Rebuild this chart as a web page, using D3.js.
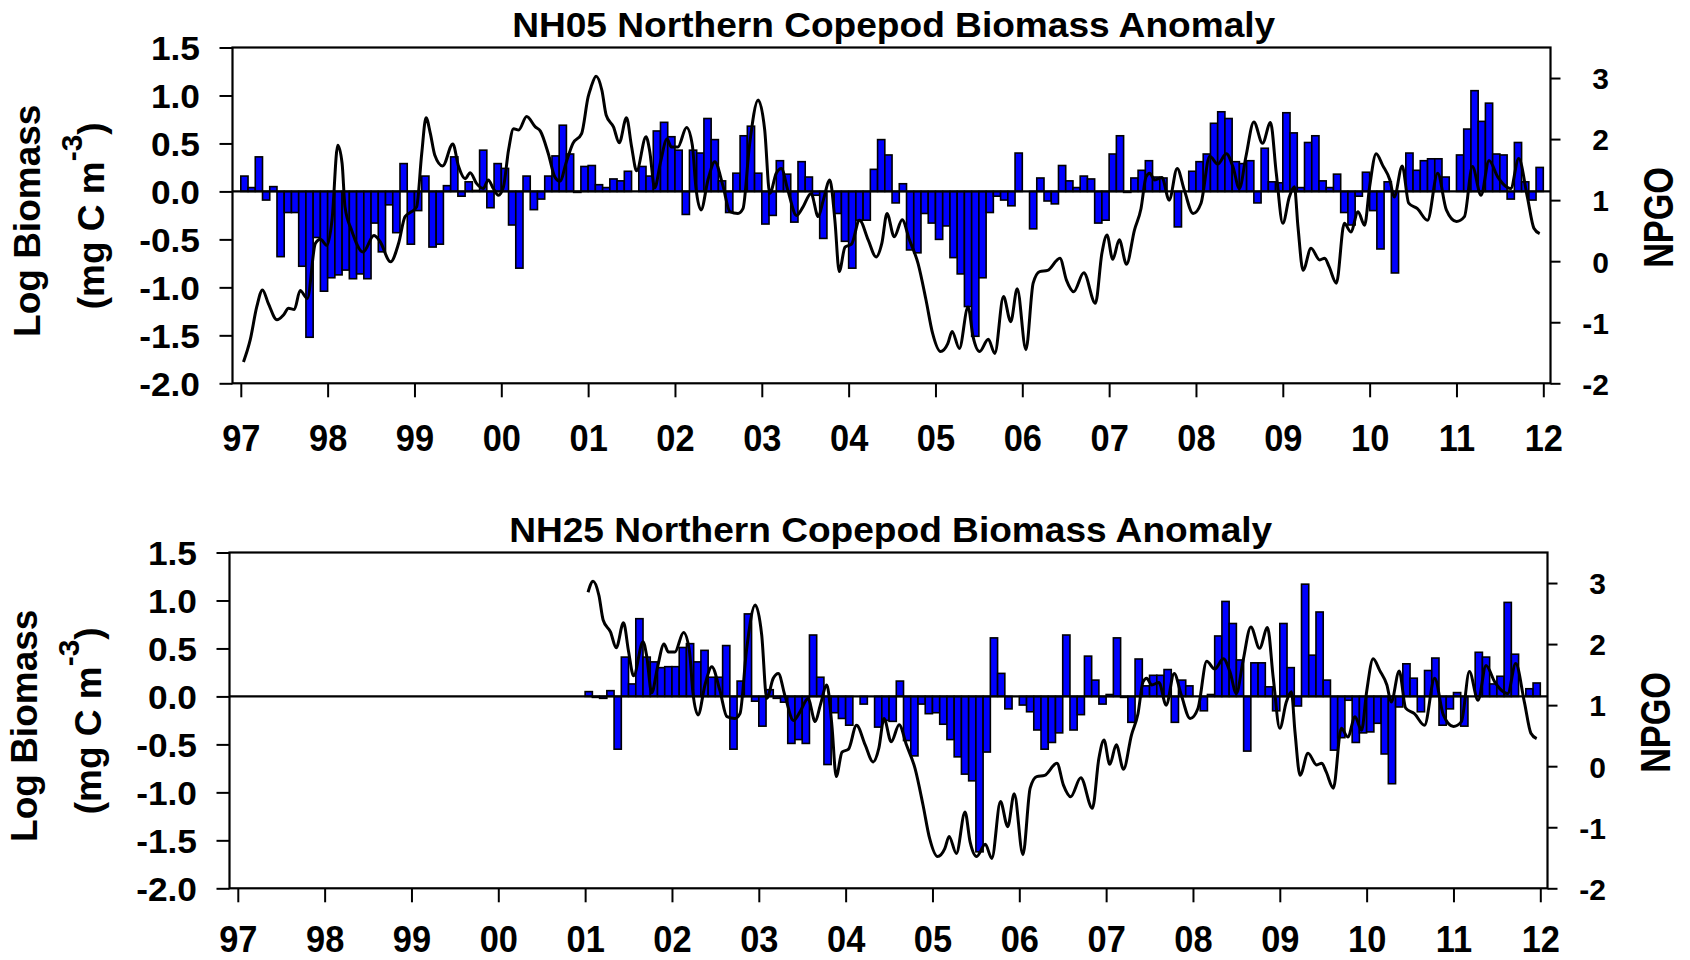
<!DOCTYPE html>
<html>
<head>
<meta charset="utf-8">
<script src="https://cdn.jsdelivr.net/npm/d3@7"></script>
<style>
body { margin: 0; background: #fff; }
text { font-family: "Liberation Sans", Arial, sans-serif; font-weight: bold; fill: #000; }
</style>
</head>
<body>
<script>
"use strict"

// x axis years and tick labels
const years = d3.range(1997, 2013);
const bioTicks = [1.5, 1.0, 0.5, 0.0, -0.5, -1.0, -1.5, -2.0];
const npgoTicks = [-2, -1, 0, 1, 2, 3];

// NH05 monthly log biomass anomaly, Jan 1997 - Dec 2011
const nh05 = [
	0.16, 0.04, 0.36, -0.09, 0.05, -0.68, -0.22, -0.22, -0.78, -1.52, -0.48, -1.04,
	-0.9, -0.87, -0.82, -0.91, -0.86, -0.91, -0.33, -0.63, -0.14, -0.43, 0.29, -0.55,
	-0.2, 0.16, -0.58, -0.55, 0.06, 0.36, -0.05, 0.1, 0.01, 0.43, -0.17, 0.29,
	0.24, -0.35, -0.8, 0.16, -0.19, -0.08, 0.16, 0.37, 0.69, 0.39, -0.01, 0.26,
	0.27, 0.07, 0.04, 0.13, 0.11, 0.21, 0.0, 0.26, 0.16, 0.63, 0.72, 0.57,
	0.43, -0.24, 0.43, 0.40, 0.76, 0.54, 0.11, -0.22, 0.19, 0.58, 0.68, 0.19,
	-0.34, -0.25, 0.32, 0.18, -0.32, 0.31, 0.15, -0.04, -0.49, 0.0, -0.23, -0.52,
	-0.8, -0.3, -0.3, 0.23, 0.54, 0.38, -0.12, 0.08, -0.61, -0.64, -0.23, -0.33,
	-0.5, -0.36, -0.69, -0.86, -1.2, -1.51, -0.9, -0.22, -0.05, -0.09, -0.15, 0.4,
	0.0, -0.39, 0.14, -0.1, -0.13, 0.27, 0.11, 0.04, 0.16, 0.13, -0.33, -0.3,
	0.39, 0.58, -0.01, 0.14, 0.22, 0.32, 0.15, 0.14, 0.0, -0.37, 0.0, 0.21,
	0.31, 0.39, 0.71, 0.83, 0.76, 0.31, 0.29, 0.32, -0.12, 0.45, 0.1, 0.09,
	0.82, 0.61, 0.04, 0.51, 0.58, 0.11, 0.04, 0.18, -0.22, -0.35, -0.05, 0.2,
	-0.2, -0.6, 0.1, -0.85, 0.0, 0.4, 0.22, 0.32, 0.34, 0.34, 0.15, 0.0,
	0.38, 0.65, 1.05, 0.73, 0.92, 0.39, 0.38, -0.08, 0.51, 0.1, -0.09, 0.25
];

// NH25 monthly log biomass anomaly, Jan 2001 - Dec 2011
const nh25 = [
	0.05, -0.01, -0.02, 0.06, -0.55, 0.41, 0.13, 0.81, 0.41, 0.36, 0.3, 0.31,
	0.31, 0.51, 0.55, 0.36, 0.48, 0.2, 0.2, 0.53, -0.55, 0.16, 0.86, -0.05,
	-0.31, 0.07, -0.02, -0.06, -0.49, -0.45, -0.49, 0.64, 0.2, -0.71, -0.17, -0.23,
	-0.3, 0.0, -0.08, 0.0, -0.32, -0.25, -0.26, 0.16, -0.46, -0.62, -0.08, -0.18,
	-0.17, -0.29, -0.45, -0.63, -0.81, -0.88, -1.62, -0.58, 0.61, 0.24, -0.13, 0.0,
	-0.09, -0.16, -0.35, -0.55, -0.48, -0.38, 0.64, -0.35, -0.19, 0.42, 0.17, -0.08,
	0.02, 0.61, -0.01, -0.27, 0.39, 0.11, 0.22, 0.22, 0.28, -0.27, 0.17, 0.11,
	0.0, -0.15, 0.02, 0.63, 0.99, 0.76, 0.38, -0.57, 0.35, 0.35, 0.1, -0.15,
	0.76, 0.3, -0.1, 1.17, 0.43, 0.88, 0.17, -0.56, -0.43, -0.04, -0.48, -0.38,
	-0.37, -0.28, -0.6, -0.91, -0.11, 0.34, 0.19, -0.16, 0.27, 0.4, -0.3, -0.13,
	0.04, -0.31, 0.0, 0.46, 0.41, 0.13, 0.21, 0.98, 0.44, 0.0, 0.08, 0.14
];

// NPGO index: months since Jan 1997 and value
const npgoMonth = [
	0.37, 1.3, 2.2, 3.0, 3.8, 5.0, 5.9, 6.6, 7.4, 8.2, 9.2, 10.3, 11.0, 11.9, 12.6, 13.4, 14.0, 14.4,
	15.3, 16.9, 18.4, 19.2, 20.7, 21.8, 22.7, 23.6, 24.3, 25.0, 25.6, 26.2, 26.8, 27.9, 29.3, 30.1,
	31.0, 31.7, 32.6, 33.5, 34.2, 34.9, 35.6, 36.3, 37.0, 37.7, 38.4, 39.5, 40.7, 41.4, 42.5, 43.4,
	44.1, 45.0, 45.9, 47.1, 48.0, 48.4, 49.1, 49.9, 50.5, 51.5, 52.3, 53.3, 54.0, 54.7, 56.0, 56.5,
	57.2, 58.0, 58.9, 59.5, 60.4, 61.6, 62.4, 62.9, 63.6, 64.6, 65.5, 66.6, 67.6, 68.7, 69.4, 70.3,
	71.5, 72.4, 73.1, 74.0, 74.7, 75.6, 76.8, 77.7, 78.8, 79.8, 80.5, 81.4, 82.1, 82.7, 83.5, 84.4,
	85.5, 86.7, 87.8, 88.6, 89.3, 90.3, 91.4, 92.4, 93.6, 94.7, 95.6, 96.7, 97.7, 98.3, 99.3, 100.5,
	101.2, 102.1, 103.3, 104.2, 105.4, 106.4, 107.3, 108.5, 109.5, 110.4, 111.5, 113.2, 114.1, 115.1,
	116.5, 118.1, 119.0, 119.7, 120.5, 121.4, 122.4, 123.5, 124.4, 125.1, 125.6, 126.3, 127.3, 128.3,
	129.4, 130.4, 131.6, 132.7, 133.9, 135.0, 136.2, 137.1, 138.0, 138.9, 140.0, 141.2, 142.3, 143.1,
	144.0, 144.9, 145.6, 146.1, 146.8, 147.9, 149.1, 149.8, 150.4, 151.4, 152.5, 153.4, 154.4, 155.3,
	156.0, 156.9, 157.8, 158.8, 159.4, 160.5, 161.4, 162.6, 164.0, 165.4, 166.6, 168.0, 169.1, 170.2,
	171.4, 172.5, 173.7, 174.4, 175.5, 176.6, 177.8, 178.7, 179.5
];
const npgoValue = [
	-1.65, -1.29, -0.75, -0.47, -0.69, -0.96, -0.88, -0.77, -0.79, -0.48, -0.61, 0.29, 0.36, 0.26, 0.67, 1.9, 1.6, 0.89,
	0.51, 0.15, 0.42, 0.33, -0.01, 0.29, 0.73, 0.81, 0.89, 1.76, 2.35, 2.09, 1.74, 1.56, 1.92, 1.55,
	1.35, 1.45, 1.27, 1.19, 1.33, 1.19, 1.08, 1.22, 1.82, 2.17, 2.15, 2.37, 2.2, 2.13, 1.76, 1.38,
	1.31, 1.63, 1.93, 2.09, 2.69, 2.85, 3.03, 2.8, 2.39, 2.2, 1.94, 2.35, 1.88, 1.48, 2.04, 1.81,
	1.2, 1.62, 2.0, 1.87, 1.87, 2.19, 1.9, 1.2, 0.84, 1.35, 1.63, 1.25, 0.81, 0.78, 0.86, 1.9,
	2.64, 2.15, 1.11, 1.44, 1.52, 1.16, 0.75, 0.89, 1.11, 0.73, 1.0, 1.33, 0.67, -0.17, 0.23, 0.28,
	0.67, 0.35, 0.07, 0.3, 0.78, 0.4, 0.68, 0.35, -0.04, -0.64, -1.18, -1.48, -1.35, -1.15, -1.43, -0.75,
	-1.24, -1.48, -1.28, -1.51, -0.58, -0.99, -0.45, -1.45, -0.36, -0.17, -0.15, 0.05, -0.31, -0.5,
	-0.19, -0.69, 0.13, 0.43, 0.03, 0.35, -0.05, 0.51, 0.86, 1.38, 1.44, 1.33, 1.37, 1.0,
	1.52, 1.16, 0.78, 0.95, 1.72, 1.59, 1.76, 1.55, 1.19, 1.71, 2.28, 1.93, 2.27, 1.44,
	0.62, 1.05, 1.22, 0.56, -0.15, 0.21, 0.02, 0.05, -0.09, -0.36, 0.62, 0.48, 0.81, 0.59,
	1.22, 1.76, 1.57, 1.33, 1.05, 1.56, 0.95, 0.86, 0.67, 1.44, 0.84, 0.65, 0.73, 1.55,
	1.08, 1.65, 1.38, 1.27, 1.19, 1.68, 1.05, 0.54, 0.45
];

const w = 1690;
const h = 960;

const panels = [
	{ title: "NH05 Northern Copepod Biomass Anomaly", values: nh05, start: 1997, npgoFrom: 1997, dx: 0, dy: 0, labelY: 67.7 },
	{ title: "NH25 Northern Copepod Biomass Anomaly", values: nh25, start: 2001, npgoFrom: 1997 + 48.4 / 12, dx: -3, dy: 505, labelY: 63.5 }
];

const svg = d3.select("body")
	.append("svg")
	.attr("width", w)
	.attr("height", h);

panels.forEach(drawPanel);

function drawPanel(p) {
	const left = 232.5, right = 1550.5, top = 47.5, bottom = 383.3;

	const g = svg.append("g")
		.attr("transform", "translate(" + p.dx + "," + p.dy + ")");

	const xScale = d3.scaleLinear().domain([1997, 2012]).range([240.8, 1543.3]);
	const yScale = d3.scaleLinear().domain([-2, 1.5]).range([bottom, top]);
	const y2Scale = d3.scaleLinear().domain([-2, 3.5]).range([bottom, top]);

	const bars = p.values.map((v, i) => ({ t: p.start + i / 12, v: v }));

	g.selectAll("rect.bar")
		.data(bars)
		.enter()
		.append("rect")
		.attr("class", "bar")
		.attr("x", d => xScale(d.t))
		.attr("width", d => xScale(d.t + 1 / 12) - xScale(d.t))
		.attr("y", d => Math.min(yScale(d.v), yScale(0)))
		.attr("height", d => Math.abs(yScale(d.v) - yScale(0)))
		.attr("fill", "#0000ff")
		.attr("stroke", "#000")
		.attr("stroke-width", 1.6);

	// zero line
	g.append("line")
		.attr("x1", left).attr("x2", right)
		.attr("y1", yScale(0)).attr("y2", yScale(0))
		.attr("stroke", "#000")
		.attr("stroke-width", 2.2);

	const npgo = npgoMonth.map((m, i) => ({ t: 1997 + m / 12, v: npgoValue[i] }))
		.filter(d => d.t >= p.npgoFrom - 1e-6);

	const line = d3.line()
		.x(d => xScale(d.t))
		.y(d => y2Scale(d.v))
		.curve(d3.curveMonotoneX);

	g.append("path")
		.datum(npgo)
		.attr("d", line)
		.attr("fill", "none")
		.attr("stroke", "#000")
		.attr("stroke-width", 3)
		.attr("stroke-linejoin", "round");

	// frame
	g.append("rect")
		.attr("x", left).attr("y", top)
		.attr("width", right - left).attr("height", bottom - top)
		.attr("fill", "none")
		.attr("stroke", "#000")
		.attr("stroke-width", 2.2);

	const yAxis = g.append("g")
		.attr("transform", "translate(" + left + ",0)")
		.call(d3.axisLeft(yScale).tickValues(bioTicks).tickSize(13).tickFormat(d => d.toFixed(1)));
	yAxis.select(".domain").remove();
	yAxis.selectAll(".tick line").attr("stroke", "#000").attr("stroke-width", 2);
	yAxis.selectAll(".tick text")
		.attr("x", null)
		.attr("dy", "0.36em")
		.attr("text-anchor", "end")
		.attr("transform", "translate(-32.5,0) scale(1.07,1)")
		.style("font-size", "33px");

	const y2Axis = g.append("g")
		.attr("transform", "translate(" + right + ",0)")
		.call(d3.axisRight(y2Scale).tickValues(npgoTicks).tickSize(10).tickFormat(d => String(d)));
	y2Axis.select(".domain").remove();
	y2Axis.selectAll(".tick line").attr("stroke", "#000").attr("stroke-width", 2);
	y2Axis.selectAll(".tick text")
		.attr("x", 58.5)
		.attr("dy", "0.36em")
		.attr("text-anchor", "end")
		.style("font-size", "30px");

	const xAxis = g.append("g")
		.attr("transform", "translate(0," + bottom + ")")
		.call(d3.axisBottom(xScale).tickValues(years).tickSize(14).tickFormat(d => String(d % 100).padStart(2, "0")));
	xAxis.select(".domain").remove();
	xAxis.selectAll(".tick line").attr("stroke", "#000").attr("stroke-width", 2);
	xAxis.selectAll(".tick text")
		.attr("y", null)
		.attr("dy", null)
		.attr("transform", "translate(0," + p.labelY + ") scale(0.93,1)")
		.style("font-size", "37px");

	g.append("text")
		.attr("transform", "translate(893.7,36.7) scale(1.06,1)")
		.attr("text-anchor", "middle")
		.style("font-size", "35px")
		.text(p.title);

	g.append("text")
		.attr("transform", "translate(40,220.8) rotate(-90)")
		.attr("text-anchor", "middle")
		.style("font-size", "37px")
		.text("Log Biomass");

	const unit = g.append("text")
		.attr("transform", "translate(104,215.8) rotate(-90)")
		.attr("text-anchor", "middle")
		.style("font-size", "37px");
	unit.append("tspan").text("(mg C m");
	unit.append("tspan").attr("dy", -22).style("font-size", "30px").text("-3");
	unit.append("tspan").attr("dy", 22).text(")");

	g.append("text")
		.attr("transform", "translate(1673,217.5) rotate(-90) scale(0.9,1.1)")
		.attr("text-anchor", "middle")
		.style("font-size", "38px")
		.text("NPGO");
}
</script>
</body>
</html>
